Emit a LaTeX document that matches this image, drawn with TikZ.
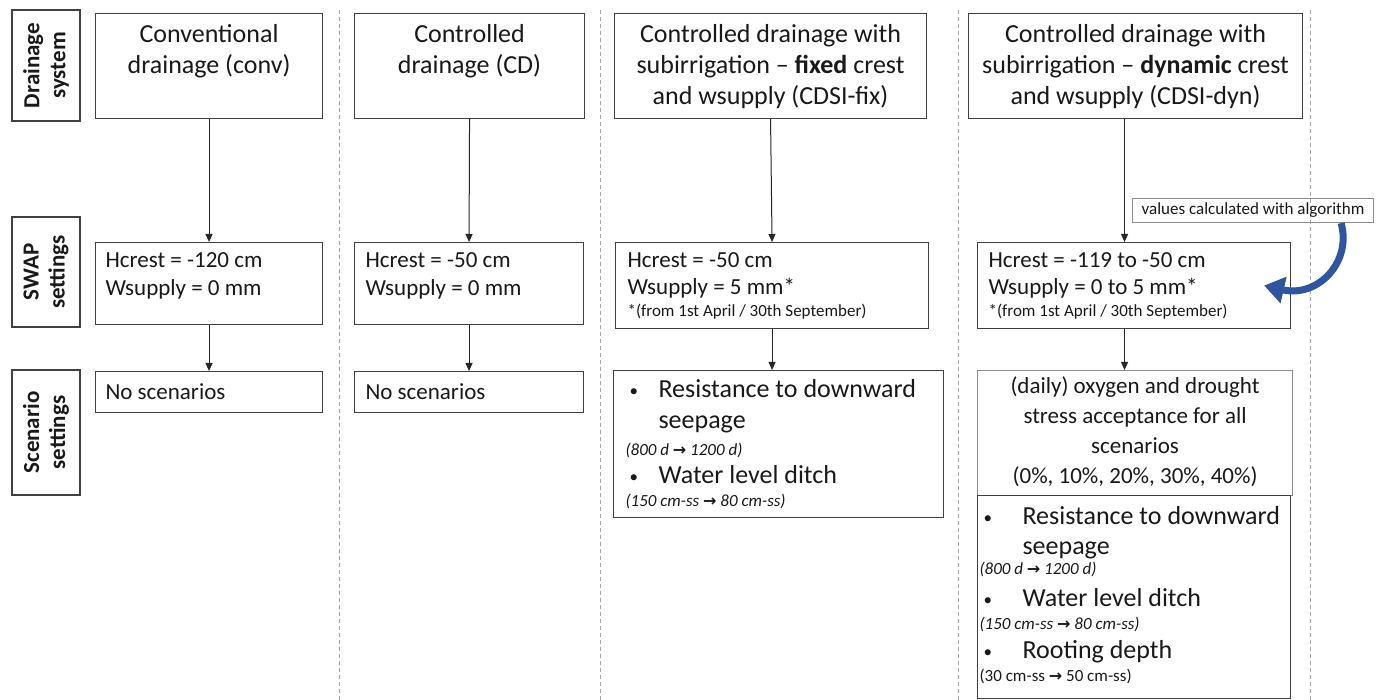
\documentclass[tikz,border=0pt]{standalone}
\usepackage{fontspec}
\setmainfont{Carlito}
\newfontfamily\arrowfont{DejaVu Sans}
\usetikzlibrary{arrows.meta}

\definecolor{algblue}{RGB}{47,85,160}
% box contents: width, height, top gap, text
\newcommand{\tbox}[4]{\parbox[c][#2pt][t]{#1pt}{\vspace*{#3pt}#4}}
\newcommand{\txtline}[3]{{\fontsize{#1}{#2}\selectfont #3\par}}
\newcommand{\topfont}{\fontsize{26}{31}\selectfont}
\newcommand{\swapfont}{\fontsize{23}{28}\selectfont}
\newcommand{\arr}{{\arrowfont\upshape\bfseries\fontsize{16}{16}\selectfont →}}
\newcommand{\bul}[1]{\hspace*{4pt}\makebox[#1pt][l]{\fontsize{17}{17}\selectfont\raisebox{1pt}{\textbullet}}}

\begin{document}
\begin{tikzpicture}[x=1pt,y=-1pt,
    cell/.style={draw=black!75,line width=1.1pt,inner sep=0pt,anchor=north west,text=black!90},
    rowlabel/.style={draw=black!75,line width=1.1pt,inner sep=0pt,rotate=90,minimum height=68pt,
        align=center,text=black!90,font=\fontsize{23}{26}\selectfont\bfseries},
    flow/.style={draw=black!85,line width=1pt,-{Triangle[length=8pt,width=7pt]}},
    sep/.style={draw=black!35,line width=0.8pt,dash pattern=on 4pt off 3pt}]
\useasboundingbox (0,0) rectangle (1390,700);

% column separators
\foreach \xs in {339,600,958,1310}
    \draw[sep] (\xs,10) -- (\xs,700);

% row labels
\node[rowlabel,minimum width=111pt] (lab1) at (46,65.5) {Drainage\\system};
\node[rowlabel,minimum width=110pt] (lab2) at (46,272) {SWAP\\settings};
\node[rowlabel,minimum width=125pt] (lab3) at (46,432.5) {Scenario\\settings};

% conventional
\node[cell] (t1) at (95,13) {\tbox{227}{105}{11}{\centering\topfont Conventional\\drainage (conv)}};
\node[cell] (s1) at (95,242) {\tbox{227}{82}{10}{\leftskip=10pt\swapfont Hcrest = -120 cm\\Wsupply = 0 mm}};
\node[cell] (c1) at (95,371) {\tbox{227}{41}{12}{\leftskip=10pt\swapfont No scenarios}};

% controlled drainage
\node[cell] (t2) at (354,13) {\tbox{230}{105}{11}{\centering\topfont Controlled\\drainage (CD)}};
\node[cell] (s2) at (354,242) {\tbox{229}{82}{10}{\leftskip=11pt\swapfont Hcrest = -50 cm\\Wsupply = 0 mm}};
\node[cell] (c2) at (354,371) {\tbox{229}{41}{12}{\leftskip=11pt\swapfont No scenarios}};

% fixed crest
\node[cell] (t3) at (614,13) {\tbox{312}{105}{11}{\centering\topfont Controlled drainage with\\
    subirrigation -- \textbf{fixed} crest\\and wsupply (CDSI-fix)}};
\node[cell] (s3) at (615,242) {\tbox{313}{86}{10}{\leftskip=12pt
    \txtline{23}{28}{Hcrest = -50 cm}
    \txtline{23}{27}{Wsupply = 5 mm*}
    \txtline{17}{22}{*(from 1st April / 30th September)}}};
\node[cell] (c3) at (613,370) {\tbox{330}{147}{9}{\leftskip=12pt
    \txtline{26}{31}{\bul{29}Resistance to downward}
    \txtline{26}{31}{\hspace*{33pt}seepage}
    \txtline{17}{27}{\itshape (800 d \arr\ 1200 d)}
    \txtline{26}{28}{\bul{29}Water level ditch}
    \txtline{17}{23}{\itshape (150 cm-ss \arr\ 80 cm-ss)}}};

% dynamic crest
\node[cell] (t4) at (968,13) {\tbox{334}{105}{11}{\centering\topfont Controlled drainage with\\
    subirrigation -- \textbf{dynamic} crest\\and wsupply (CDSI-dyn)}};
\node[cell] (s4) at (977,242) {\tbox{313}{86}{10}{\leftskip=11pt
    \txtline{23}{28}{Hcrest = -119 to -50 cm}
    \txtline{23}{27}{Wsupply = 0 to 5 mm*}
    \txtline{17}{22}{*(from 1st April / 30th September)}}};
\node[cell,draw=black!45] (d4) at (977,370) {\tbox{315}{125}{6}{\centering\fontsize{23}{30}\selectfont
    (daily) oxygen and drought\\stress acceptance for all\\scenarios\\(0\%, 10\%, 20\%, 30\%, 40\%)}};
\node[cell] (c4) at (977,495) {\tbox{313}{203}{11}{\leftskip=2pt
    \txtline{26}{31}{\bul{39}Resistance to downward}
    \txtline{26}{30}{\hspace*{43pt}seepage}
    \txtline{17}{20}{\itshape (800 d \arr\ 1200 d)}
    \txtline{26}{32}{\bul{39}Water level ditch}
    \txtline{17}{23}{\itshape (150 cm-ss \arr\ 80 cm-ss)}
    \txtline{26}{29}{\bul{39}Rooting depth}
    \txtline{17}{23}{(30 cm-ss \arr\ 50 cm-ss)}}};

\node[cell,draw=black!45,minimum width=241pt,minimum height=24pt] (val) at (1132,198)
    {\fontsize{17}{18}\selectfont values calculated with algorithm};

% arrows
\draw[flow] (t1.south) -- (s1.north);
\draw[flow] (s1.south) -- (c1.north);
\draw[flow] (t2.south) -- (s2.north);
\draw[flow] (s2.south) -- (c2.north);
\draw[flow] (t3.south) -- (s3.north);
\draw[flow] (s3.south) -- (s3.south |- c3.north);
\draw[flow] ([xshift=-11pt]t4.south) -- ([xshift=-11pt]t4.south |- s4.north);
\draw[flow] ([xshift=-9.5pt]s4.south) -- ([xshift=-9.5pt]s4.south |- d4.north);

\draw[algblue,line width=7pt,-{Triangle[length=20pt,width=26pt]}]
    ([xshift=-33pt]val.south east) .. controls (1352,262) and (1318,298) .. ([xshift=-27pt]s4.east);
\end{tikzpicture}
\end{document}
